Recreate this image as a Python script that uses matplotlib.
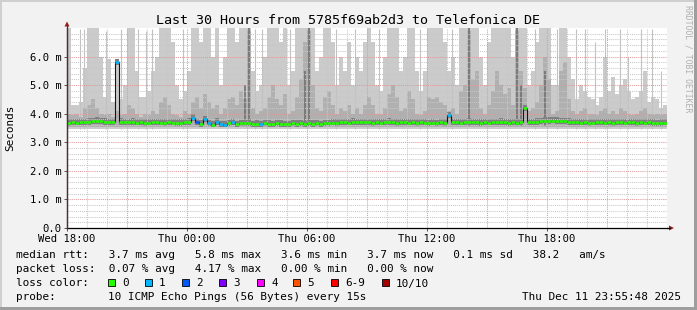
import numpy as np
import matplotlib
matplotlib.use('Agg')
import matplotlib.pyplot as plt
from matplotlib.patches import Rectangle, Polygon
from matplotlib.lines import Line2D

W, H = 697, 310

# 150 slots of 12 minutes from Wed 18:00 to Fri 00:00, rtt in ms
smoke_max = [7.0, 4.3, 4.3, 4.4, 5.6, 7.0, 7.0, 7.0, 6.0, 4.6,
             5.9, 4.4, 5.9, 4.5, 5.0, 7.0, 7.0, 5.5, 4.6, 4.6,
             4.8, 5.5, 6.0, 7.0, 7.0, 7.0, 6.5, 5.0, 4.5, 4.8,
             5.5, 7.0, 7.0, 6.5, 7.0, 7.0, 6.0, 7.0, 5.0, 6.0,
             7.0, 7.0, 6.5, 7.0, 7.0, 7.0, 5.5, 4.8, 5.0, 6.0,
             7.0, 7.0, 7.0, 6.5, 7.0, 5.0, 5.5, 7.0, 7.0, 7.0,
             7.0, 7.0, 5.5, 6.0, 7.0, 7.0, 6.5, 5.0, 6.0, 5.5,
             6.5, 5.0, 6.0, 5.5, 6.5, 7.0, 6.5, 5.0, 4.8, 6.0,
             7.0, 7.0, 7.0, 5.5, 6.0, 7.0, 7.0, 5.5, 4.8, 5.5,
             7.0, 7.0, 7.0, 7.0, 6.5, 5.5, 6.0, 5.0, 7.0, 7.0,
             7.0, 7.0, 7.0, 6.0, 5.0, 6.5, 7.0, 7.0, 7.0, 7.0,
             7.0, 6.0, 7.0, 7.0, 7.0, 5.0, 5.5, 6.5, 7.0, 7.0,
             7.0, 5.0, 5.0, 7.0, 7.0, 6.0, 5.2, 4.5, 5.0, 4.8,
             4.6, 4.5, 4.3, 4.6, 6.0, 4.8, 5.3, 4.7, 5.0, 5.2,
             4.8, 4.5, 4.6, 4.8, 5.5, 4.4, 4.6, 4.5, 4.2, 4.3]

smoke_mid = [4.0, 3.95, 4.0, 3.9, 4.2, 4.3, 4.5, 4.2, 4.0, 3.95,
             4.0, 3.9, 4.1, 3.95, 4.0, 4.3, 4.2, 4.0, 3.9, 4.0,
             3.95, 4.1, 4.0, 4.4, 4.6, 4.3, 4.0, 3.95, 3.9, 4.1,
             4.0, 4.4, 4.6, 4.2, 4.7, 4.4, 4.2, 4.3, 4.0, 4.2,
             4.5, 4.6, 4.3, 4.8, 4.5, 6.9, 4.2, 4.0, 4.1, 4.2,
             4.6, 5.0, 4.5, 4.3, 4.7, 4.0, 4.1, 4.6, 5.2, 6.5,
             6.9, 5.0, 4.2, 4.1, 4.6, 4.8, 4.3, 4.0, 4.2, 4.1,
             4.3, 4.0, 4.2, 4.0, 4.3, 4.6, 4.3, 4.0, 4.0, 4.2,
             4.7, 5.0, 4.6, 4.1, 4.2, 4.8, 4.5, 4.0, 3.95, 4.1,
             4.6, 4.5, 4.6, 4.4, 4.3, 4.1, 4.2, 4.0, 4.8, 5.0,
             6.9, 5.2, 5.5, 4.2, 4.0, 4.3, 4.8, 5.5, 5.0, 4.7,
             4.9, 4.3, 6.9, 5.5, 4.9, 4.1, 4.2, 4.4, 5.0, 6.0,
             5.2, 4.0, 4.1, 5.5, 5.8, 4.5, 4.1, 4.0, 4.1, 4.2,
             4.0, 4.0, 3.95, 4.1, 4.2, 4.0, 4.1, 4.0, 4.2, 4.1,
             4.0, 3.95, 4.0, 4.1, 4.2, 4.0, 3.95, 4.0, 3.95, 4.0]

median_rtt = [3.68, 3.70, 3.69, 3.71, 3.70, 3.72, 3.74, 3.75, 3.73, 3.72,
              3.71, 3.70, 5.80, 3.72, 3.71, 3.70, 3.72, 3.69, 3.70, 3.68,
              3.69, 3.70, 3.71, 3.69, 3.68, 3.70, 3.69, 3.68, 3.68, 3.70,
              3.72, 3.86, 3.70, 3.65, 3.80, 3.66, 3.62, 3.72, 3.64, 3.62,
              3.66, 3.70, 3.63, 3.67, 3.66, 3.68, 3.64, 3.65, 3.63, 3.66,
              3.65, 3.64, 3.66, 3.65, 3.63, 3.64, 3.66, 3.65, 3.67, 3.64,
              3.66, 3.65, 3.66, 3.64, 3.66, 3.67, 3.69, 3.68, 3.70, 3.71,
              3.69, 3.72, 3.70, 3.71, 3.70, 3.70, 3.68, 3.70, 3.69, 3.71,
              3.72, 3.70, 3.68, 3.70, 3.71, 3.69, 3.70, 3.68, 3.70, 3.69,
              3.67, 3.69, 3.66, 3.70, 3.68, 3.95, 3.70, 3.71, 3.69, 3.70,
              3.72, 3.70, 3.71, 3.68, 3.70, 3.69, 3.70, 3.71, 3.72, 3.70,
              3.68, 3.70, 3.69, 3.70, 4.20, 3.70, 3.71, 3.72, 3.74, 3.76,
              3.75, 3.76, 3.75, 3.74, 3.73, 3.72, 3.70, 3.71, 3.69, 3.70,
              3.68, 3.69, 3.71, 3.70, 3.69, 3.70, 3.68, 3.70, 3.71, 3.69,
              3.70, 3.71, 3.68, 3.70, 3.69, 3.70, 3.68, 3.67, 3.68, 3.69]

# slots where pings were lost, and how many of the 10
loss_slots = [12, 31, 32, 34, 35, 37, 38, 39, 41, 48, 95]
loss_counts = [1, 1, 2, 1, 1, 1, 1, 1, 1, 1, 1]

# thin single-sample smoke spikes (hours from start, ms)
spike_hours = [0.65, 0.85, 1.95, 2.7, 3.55, 3.95, 4.25, 5.8, 9.4, 9.75,
               11.15, 13.45, 14.4, 15.6, 17.65, 19.25, 23.4, 24.5, 25.45, 25.9,
               26.4, 26.9, 27.65, 28.05, 28.7, 29.25, 29.7]
spike_tops = [6.95, 6.95, 6.9, 6.95, 6.95, 6.9, 6.95, 6.95, 6.95, 6.95,
              6.95, 6.95, 6.95, 6.95, 6.95, 6.95, 6.95, 6.95, 6.95, 6.95,
              6.5, 6.95, 6.95, 6.0, 6.95, 6.95, 5.5]

# dense dark streaks
dark_slots = [44, 45, 59, 60, 100, 112, 113, 119]
dark_tops = [5.0, 7.0, 5.5, 7.0, 7.0, 7.0, 5.0, 5.5]

smoke_min = 3.48

tick_hours = [0, 6, 12, 18, 24]
tick_names = ['Wed 18:00', 'Thu 00:00', 'Thu 06:00', 'Thu 12:00', 'Thu 18:00']
loss_names = ['0', '1', '2', '3', '4', '5', '6-9', '10/10']
loss_colors = ['#26ff00', '#00b8ff', '#0059ff', '#7e00ff', '#ff00ff',
               '#ff5500', '#ff0000', '#a10000']


def loss_color(n):
    if n <= 5:
        return loss_colors[n]
    if n < 10:
        return loss_colors[6]
    return loss_colors[7]


def fx(x):
    return x / W


def fy(y):
    return 1 - y / H


mono = 'DejaVu Sans Mono'
plt.rcParams['font.family'] = mono

fig = plt.figure(figsize=(W / 100, H / 100), dpi=100, facecolor='#f2f2f2')
ax = fig.add_axes([fx(67), fy(228), 600 / W, 200 / H])
ax.set_facecolor('white')
ax.set_xlim(0, 30)
ax.set_ylim(0, 7.0)

n = len(smoke_max)
edges = np.linspace(0, 30, n + 1)
centers = (edges[:-1] + edges[1:]) / 2
med = np.array(median_rtt)

ax.stairs(smoke_max, edges, baseline=smoke_min, fill=True, color='#cbcbcb', lw=0, zorder=1)
ax.vlines(spike_hours, smoke_min, spike_tops, color='#c2c2c2', lw=0.8, zorder=1)
ax.stairs(smoke_mid, edges, baseline=smoke_min + 0.07, fill=True, color='#b0b0b0', lw=0, zorder=1.2)
ax.vlines(centers[dark_slots], smoke_min + 0.1, dark_tops, color='#767676', lw=1.3, zorder=1.3)
ax.stairs(med + 0.12, edges, baseline=med - 0.1, fill=True, color='#808080', lw=0, zorder=1.4)

# grid on top of the smoke, like rrdtool
for h in range(1, 30):
    major = h % 3 == 0
    ax.axvline(h, color='#e09a9a' if major else '#c8c8c8', lw=0.75,
               ls=(0, (1, 1)), zorder=2)
for k in range(1, 35):
    v = k * 0.2
    major = k % 5 == 0
    ax.axhline(v, color='#e09a9a' if major else '#c8c8c8', lw=0.75,
               ls=(0, (1, 1)), zorder=2)

# median line coloured by loss
ax.stairs(med, edges, color='#151515', lw=0.8, baseline=None, zorder=3)
lost = dict(zip(loss_slots, loss_counts))
for i in range(n):
    ax.hlines(med[i], edges[i], edges[i + 1], color=loss_color(lost.get(i, 0)),
              lw=1.8, zorder=4)

for s in ['top', 'right']:
    ax.spines[s].set_visible(False)
ax.spines['bottom'].set_color('black')
ax.spines['left'].set_color('#4a3030')
ax.spines['bottom'].set_linewidth(0.9)
ax.spines['left'].set_linewidth(0.9)

ax.set_xticks(tick_hours)
ax.set_xticklabels(tick_names)
ax.set_yticks(range(7))
ax.set_yticklabels(['0.0'] + ['%.1f m' % v for v in range(1, 7)])
ax.tick_params(axis='both', labelsize=7.6, length=2.5, width=0.7, color='#555555', pad=1.5)
ax.tick_params(axis='x', pad=1.5)

# arrows at the axis ends
fig.add_artist(Line2D([fx(67), fx(67)], [fy(228), fy(25)], color='#4a3030', lw=0.9))
fig.add_artist(Line2D([fx(667), fx(670)], [fy(228), fy(228)], color='black', lw=0.9))
fig.add_artist(Polygon([[fx(64.5), fy(26.5)], [fx(69.5), fy(26.5)], [fx(67), fy(21.5)]],
                       closed=True, fc='#9b1b1b', ec='none', transform=fig.transFigure))
fig.add_artist(Polygon([[fx(669), fy(225.5)], [fx(669), fy(230.5)], [fx(674), fy(228)]],
                       closed=True, fc='#9b1b1b', ec='none', transform=fig.transFigure))

fig.text(fx(348), fy(24), 'Last 30 Hours from 5785f69ab2d3 to Telefonica DE',
         ha='center', va='baseline', fontsize=9.6)
fig.text(fx(10), fy(128), 'Seconds', rotation=90, ha='center', va='center', fontsize=7.9)
fig.text(fx(688), fy(5), 'RRDTOOL / TOBI OETIKER', rotation=270, ha='center', va='top',
         fontsize=5.9, color='#b0b0b0')

fs = 7.9
fig.text(fx(16), fy(258.5),
         'median rtt:   3.7 ms avg   5.8 ms max   3.6 ms min   3.7 ms now   0.1 ms sd   38.2   am/s',
         fontsize=fs, va='baseline')
fig.text(fx(16), fy(272.5),
         'packet loss:  0.07 % avg   4.17 % max   0.00 % min   0.00 % now',
         fontsize=fs, va='baseline')
fig.text(fx(16), fy(286.5), 'loss color:', fontsize=fs, va='baseline')
box_x = [108, 145, 182, 219, 257, 293, 331, 382]
for bx, name, c in zip(box_x, loss_names, loss_colors):
    fig.add_artist(Rectangle((fx(bx), fy(286)), 7 / W, 7 / H, transform=fig.transFigure,
                             fc=c, ec='black', lw=0.6))
    fig.text(fx(bx + 14), fy(286.5), name, fontsize=fs, va='baseline')
fig.text(fx(16), fy(300.5), 'probe:', fontsize=fs, va='baseline')
fig.text(fx(108), fy(300.5), '10 ICMP Echo Pings (56 Bytes) every 15s', fontsize=fs, va='baseline')
fig.text(fx(681), fy(300.5), 'Thu Dec 11 23:55:48 2025', fontsize=fs, va='baseline', ha='right')

# rrdtool frame shading
fig.add_artist(Rectangle((0, fy(2)), 1, 2 / H, transform=fig.transFigure, fc='#cfcfcf', ec='none'))
fig.add_artist(Rectangle((0, 0), 2 / W, 1, transform=fig.transFigure, fc='#cfcfcf', ec='none'))
fig.add_artist(Rectangle((0, 0), 1, 3 / H, transform=fig.transFigure, fc='#9e9e9e', ec='none'))
fig.add_artist(Rectangle((fx(694), 0), 3 / W, 1, transform=fig.transFigure, fc='#9e9e9e', ec='none'))

fig.savefig('out.png', dpi=100, facecolor=fig.get_facecolor())
